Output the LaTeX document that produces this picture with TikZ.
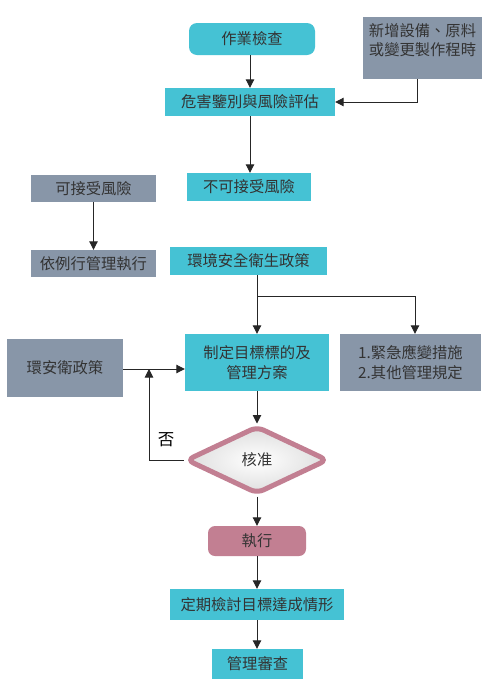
\documentclass[tikz,border=0pt]{standalone}
\usepackage{fontspec}
\setmainfont{Noto Sans CJK TC}
\usetikzlibrary{shapes.geometric,arrows.meta,calc}
\definecolor{cyanb}{HTML}{45C2D4}
\definecolor{grayb}{HTML}{8896A8}
\definecolor{pinkb}{HTML}{C27F92}
\definecolor{txt}{HTML}{333333}
\begin{document}
\begin{tikzpicture}[x=1pt,y=-1pt,
  font=\fontsize{15.3}{19.5}\selectfont,
  box/.style={rectangle, inner sep=0pt, align=center, text=txt},
  cbox/.style={box, fill=cyanb},
  gbox/.style={box, fill=grayb},
  arr/.style={-{Triangle[width=8.5pt,length=8.5pt]}, line width=0.95pt, black!85},
  ln/.style={line width=0.95pt, black!85}]
\useasboundingbox[fill=white] (0,0) rectangle (498,694);

\node[cbox, rounded corners=8pt, minimum width=126pt, minimum height=32pt] (insp) at (252,39) {作業檢查};
\node[gbox, minimum width=119pt, minimum height=62pt] (new) at (422.5,48) {新增設備、原料\\或變更製作程時\\[-3pt]};
\node[cbox, minimum width=170pt, minimum height=28pt] (haz) at (250,102) {危害鑒別與風險評估};
\node[cbox, minimum width=124pt, minimum height=28pt] (unacc) at (249,187) {不可接受風險};
\node[gbox, minimum width=125pt, minimum height=27pt] (acc) at (93.5,188.5) {可接受風險};
\node[gbox, minimum width=125pt, minimum height=27pt] (routine) at (93.5,263.5) {依例行管理執行};
\node[cbox, minimum width=157pt, minimum height=28pt] (env) at (248.5,261) {環境安全衛生政策};
\node[cbox, minimum width=144pt, minimum height=57pt] (plan) at (257,362.5) {制定目標標的及\\管理方案};
\node[gbox, minimum width=141pt, minimum height=57pt] (emerg) at (410.5,362.5) {1.緊急應變措施\\2.其他管理規定};
\node[gbox, minimum width=116pt, minimum height=58pt] (pol) at (65,368) {環安衛政策};
\node[diamond, draw=pinkb, line width=5pt, rounded corners=7pt, inner sep=0pt,
      minimum width=142pt, minimum height=68pt, text=txt,
      shading=radial, inner color=white, outer color=black!13] (dia) at (257,460) {核准};
\node[box, fill=pinkb, rounded corners=7pt, minimum width=98pt, minimum height=30pt] (exec) at (257,541) {執行};
\node[cbox, minimum width=174pt, minimum height=31pt] (rev) at (257,604.5) {定期檢討目標達成情形};
\node[cbox, minimum width=91pt, minimum height=30pt] (mgmt) at (257.5,664) {管理審查};
\node[text=black, font=\fontsize{16.5}{18}\selectfont] (no) at (166,440) {否};

\coordinate (br) at (257,296);
\coordinate (brr) at (415,296);
\coordinate (fb) at (149,369);

\draw[arr] (insp.south -| haz.north) -- (haz.north);
\draw[arr] ([xshift=-5pt]new.south) |- (haz.east);
\draw[arr] (haz.south) -- (haz.south |- unacc.north);
\draw[arr] (acc.south) -- (routine.north);
\draw[arr] (env.south -| plan.north) -- (plan.north);
\draw[ln] (br) -- (brr);
\draw[arr] (brr) -- (brr |- emerg.north);
\draw[arr] (pol.east |- fb) -- (fb -| plan.west);
\draw[arr] (dia.west) -| (fb);
\draw[arr] (plan.south) -- (dia.north);
\draw[arr] (dia.south) -- (exec.north);
\draw[arr] (exec.south) -- (rev.north);
\draw[arr] (rev.south) -- (rev.south |- mgmt.north);
\end{tikzpicture}
\end{document}
